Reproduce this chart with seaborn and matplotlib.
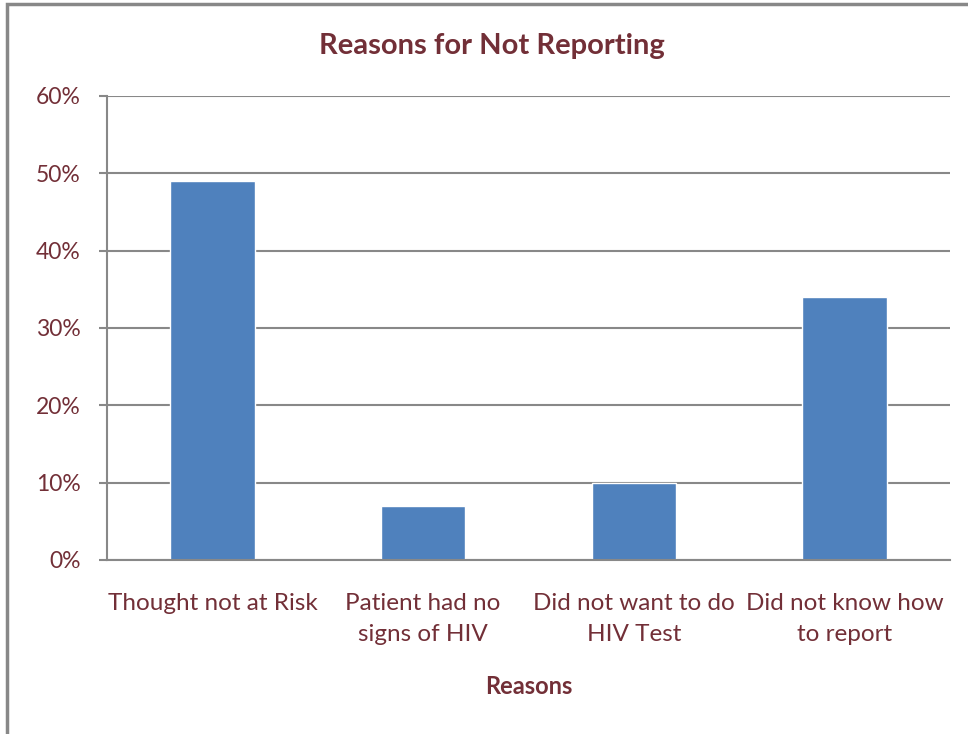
import matplotlib
matplotlib.use("Agg")
import matplotlib.pyplot as plt
import seaborn as sns
import pandas as pd
from matplotlib.patches import Rectangle
from matplotlib.ticker import FuncFormatter, FixedLocator

categories = ["Thought not at Risk", "Patient had no\nsigns of HIV",
              "Did not want to do\nHIV Test", "Did not know how\nto report"]
values = [49, 7, 10, 34]
y_ticks = [0, 10, 20, 30, 40, 50, 60]

TEXT = "#722F37"
GRID = "#888888"
BAR = "#4F81BD"

sns.set_theme(style="white")
plt.rcParams["font.family"] = ["Lato", "DejaVu Sans"]

fig = plt.figure(figsize=(9.68, 7.34), dpi=100)
W, H = 968, 734
ax = fig.add_axes([107 / W, 1 - 560 / H, (950 - 107) / W, (560 - 96) / H])

df = pd.DataFrame({"cat": categories, "val": values})
sns.barplot(data=df, x="cat", y="val", color=BAR, width=0.4, ax=ax, saturation=1)

ax.set_xlim(-0.5, len(categories) - 0.5)
ax.set_ylim(0, 60)
ax.yaxis.set_major_locator(FixedLocator(y_ticks))
ax.yaxis.set_major_formatter(FuncFormatter(lambda v, p: f"{int(v)}%"))
ax.grid(axis="y", color=GRID, linewidth=1.5)
ax.set_axisbelow(True)

for s in ["top", "right"]:
    ax.spines[s].set_visible(False)
for s in ["left", "bottom"]:
    ax.spines[s].set_color(GRID)
    ax.spines[s].set_linewidth(1.5)

ax.set_xticks(range(len(categories)))
ax.set_xticklabels(categories, color=TEXT, fontsize=17.5, linespacing=1.55)
ax.set_xticks([i - 0.5 for i in range(len(categories) + 1)], minor=True)
ax.tick_params(axis="x", which="major", length=0, pad=24)
ax.tick_params(axis="x", which="minor", length=6, color=GRID, width=1.5, direction="out")
ax.tick_params(axis="y", length=6, color=GRID, width=1.5, direction="out", pad=13,
               labelsize=16.5, labelcolor=TEXT, left=True)

ax.set_xlabel("Reasons", color=TEXT, fontsize=17, fontweight="bold", labelpad=22)
ax.set_ylabel("")

fig.text(492 / W, 1 - 46 / H, "Reasons for Not Reporting", color=TEXT, fontsize=21,
         fontweight="bold", ha="center", va="center")

fig.patches.append(Rectangle((7 / W, -0.1), 2, 1.1 - 4 / H, transform=fig.transFigure,
                             fill=False, edgecolor=GRID, linewidth=2.5, figure=fig))

fig.savefig("out.png", dpi=100)
